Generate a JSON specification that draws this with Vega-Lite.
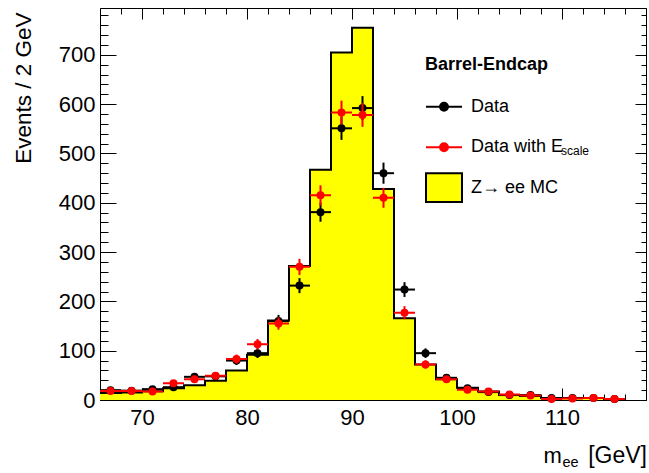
{
  "$schema": "https://vega.github.io/schema/vega-lite/v6.json",
  "width": 546,
  "height": 392,
  "autosize": {"type": "none"},
  "padding": {"left": 100, "top": 8, "right": 3, "bottom": 73},
  "background": "white",
  "config": {
    "font": "Liberation Sans",
    "view": {"stroke": null},
    "axis": {"grid": false, "labelColor": "black", "tickColor": "black", "domainColor": "black", "titleColor": "black", "titleFontWeight": "normal", "labelFont": "Liberation Sans", "titleFont": "Liberation Sans", "zindex": 1, "tickWidth": 1, "domainWidth": 1, "labelFlush": false, "labelOverlap": false}
  },
  "datasets": {
    "mc": [
      {"lo": 66, "hi": 68, "mc": 14}, {"lo": 68, "hi": 70, "mc": 15}, {"lo": 70, "hi": 72, "mc": 18},
      {"lo": 72, "hi": 74, "mc": 24}, {"lo": 74, "hi": 76, "mc": 30}, {"lo": 76, "hi": 78, "mc": 39},
      {"lo": 78, "hi": 80, "mc": 60}, {"lo": 80, "hi": 82, "mc": 92}, {"lo": 82, "hi": 84, "mc": 161},
      {"lo": 84, "hi": 86, "mc": 272}, {"lo": 86, "hi": 88, "mc": 467}, {"lo": 88, "hi": 90, "mc": 705},
      {"lo": 90, "hi": 92, "mc": 755}, {"lo": 92, "hi": 94, "mc": 428}, {"lo": 94, "hi": 96, "mc": 166},
      {"lo": 96, "hi": 98, "mc": 72}, {"lo": 98, "hi": 100, "mc": 42}, {"lo": 100, "hi": 102, "mc": 25},
      {"lo": 102, "hi": 104, "mc": 17}, {"lo": 104, "hi": 106, "mc": 10}, {"lo": 106, "hi": 108, "mc": 8},
      {"lo": 108, "hi": 110, "mc": 4}, {"lo": 110, "hi": 112, "mc": 4}, {"lo": 112, "hi": 114, "mc": 4},
      {"lo": 114, "hi": 116, "mc": 2}
    ],
    "pts": [
      {"series": "Data", "x": 67, "lo": 66, "hi": 68, "y": 20, "err": 4.5},
      {"series": "Data", "x": 69, "lo": 68, "hi": 70, "y": 19, "err": 4.4},
      {"series": "Data", "x": 71, "lo": 70, "hi": 72, "y": 22, "err": 4.7},
      {"series": "Data", "x": 73, "lo": 72, "hi": 74, "y": 26, "err": 5.1},
      {"series": "Data", "x": 75, "lo": 74, "hi": 76, "y": 47, "err": 6.9},
      {"series": "Data", "x": 77, "lo": 76, "hi": 78, "y": 48, "err": 6.9},
      {"series": "Data", "x": 79, "lo": 78, "hi": 80, "y": 80, "err": 8.9},
      {"series": "Data", "x": 81, "lo": 80, "hi": 82, "y": 95, "err": 9.7},
      {"series": "Data", "x": 83, "lo": 82, "hi": 84, "y": 160, "err": 12.6},
      {"series": "Data", "x": 85, "lo": 84, "hi": 86, "y": 232, "err": 15.2},
      {"series": "Data", "x": 87, "lo": 86, "hi": 88, "y": 381, "err": 19.5},
      {"series": "Data", "x": 89, "lo": 88, "hi": 90, "y": 551, "err": 23.5},
      {"series": "Data", "x": 91, "lo": 90, "hi": 92, "y": 592, "err": 24.3},
      {"series": "Data", "x": 93, "lo": 92, "hi": 94, "y": 460, "err": 21.4},
      {"series": "Data", "x": 95, "lo": 94, "hi": 96, "y": 224, "err": 15.0},
      {"series": "Data", "x": 97, "lo": 96, "hi": 98, "y": 95, "err": 9.7},
      {"series": "Data", "x": 99, "lo": 98, "hi": 100, "y": 45, "err": 6.7},
      {"series": "Data", "x": 101, "lo": 100, "hi": 102, "y": 24, "err": 4.9},
      {"series": "Data", "x": 103, "lo": 102, "hi": 104, "y": 16, "err": 4.0},
      {"series": "Data", "x": 105, "lo": 104, "hi": 106, "y": 10, "err": 3.2},
      {"series": "Data", "x": 107, "lo": 106, "hi": 108, "y": 10, "err": 3.2},
      {"series": "Data", "x": 109, "lo": 108, "hi": 110, "y": 4, "err": 2.0},
      {"series": "Data", "x": 111, "lo": 110, "hi": 112, "y": 4, "err": 2.0},
      {"series": "Data", "x": 113, "lo": 112, "hi": 114, "y": 4, "err": 2.0},
      {"series": "Data", "x": 115, "lo": 114, "hi": 116, "y": 2, "err": 1.4},
      {"series": "Data with E_scale", "x": 67, "lo": 66, "hi": 68, "y": 18, "err": 4.2},
      {"series": "Data with E_scale", "x": 69, "lo": 68, "hi": 70, "y": 18, "err": 4.2},
      {"series": "Data with E_scale", "x": 71, "lo": 70, "hi": 72, "y": 17, "err": 4.1},
      {"series": "Data with E_scale", "x": 73, "lo": 72, "hi": 74, "y": 34, "err": 5.8},
      {"series": "Data with E_scale", "x": 75, "lo": 74, "hi": 76, "y": 42, "err": 6.5},
      {"series": "Data with E_scale", "x": 77, "lo": 76, "hi": 78, "y": 49, "err": 7.0},
      {"series": "Data with E_scale", "x": 79, "lo": 78, "hi": 80, "y": 83, "err": 9.1},
      {"series": "Data with E_scale", "x": 81, "lo": 80, "hi": 82, "y": 113, "err": 10.6},
      {"series": "Data with E_scale", "x": 83, "lo": 82, "hi": 84, "y": 155, "err": 12.4},
      {"series": "Data with E_scale", "x": 85, "lo": 84, "hi": 86, "y": 270, "err": 16.4},
      {"series": "Data with E_scale", "x": 87, "lo": 86, "hi": 88, "y": 415, "err": 20.4},
      {"series": "Data with E_scale", "x": 89, "lo": 88, "hi": 90, "y": 583, "err": 24.1},
      {"series": "Data with E_scale", "x": 91, "lo": 90, "hi": 92, "y": 578, "err": 24.0},
      {"series": "Data with E_scale", "x": 93, "lo": 92, "hi": 94, "y": 410, "err": 20.2},
      {"series": "Data with E_scale", "x": 95, "lo": 94, "hi": 96, "y": 177, "err": 13.3},
      {"series": "Data with E_scale", "x": 97, "lo": 96, "hi": 98, "y": 72, "err": 8.5},
      {"series": "Data with E_scale", "x": 99, "lo": 98, "hi": 100, "y": 42, "err": 6.5},
      {"series": "Data with E_scale", "x": 101, "lo": 100, "hi": 102, "y": 21, "err": 4.6},
      {"series": "Data with E_scale", "x": 103, "lo": 102, "hi": 104, "y": 17, "err": 4.1},
      {"series": "Data with E_scale", "x": 105, "lo": 104, "hi": 106, "y": 11, "err": 3.3},
      {"series": "Data with E_scale", "x": 107, "lo": 106, "hi": 108, "y": 9, "err": 3.0},
      {"series": "Data with E_scale", "x": 109, "lo": 108, "hi": 110, "y": 2, "err": 1.4},
      {"series": "Data with E_scale", "x": 111, "lo": 110, "hi": 112, "y": 3, "err": 1.7},
      {"series": "Data with E_scale", "x": 113, "lo": 112, "hi": 114, "y": 4, "err": 2.0},
      {"series": "Data with E_scale", "x": 115, "lo": 114, "hi": 116, "y": 2, "err": 1.4}
    ]
  },
  "resolve": {"axis": {"x": "independent", "y": "independent"}},
  "layer": [
    {
      "data": {"name": "mc"},
      "mark": {"type": "rect"},
      "encoding": {
        "x": {"field": "lo", "type": "quantitative", "scale": {"domain": [66, 118], "nice": false, "zero": false},
          "axis": {"orient": "bottom", "values": [70, 80, 90, 100, 110], "format": "d", "tickSize": -12, "labelPadding": 19, "labelFontSize": 22, "domain": true,
            "title": "[GeV]", "titleFontSize": 23, "titleX": 546.5, "titleY": 62.7, "titleAlign": "right", "titleBaseline": "alphabetic", "titleAnchor": null}},
        "x2": {"field": "hi"},
        "y": {"field": "mc", "type": "quantitative", "scale": {"domain": [0, 795], "nice": false, "zero": true},
          "axis": {"orient": "left", "values": [0, 100, 200, 300, 400, 500, 600, 700], "format": "d", "tickSize": -16, "labelPadding": 21, "labelFontSize": 22, "domain": true,
            "title": "Events / 2 GeV", "titleFontSize": 22.5, "titleAngle": 270, "titleX": -70, "titleY": 4, "titleAlign": "right", "titleBaseline": "alphabetic"}},
        "y2": {"datum": 0},
        "color": {"datum": "Z→ ee MC", "type": "nominal",
          "scale": {"domain": ["Data", "Data with E_scale", "Z→ ee MC"], "range": ["black", "red", "#ffff00"]},
          "legend": {"orient": "none", "legendX": 325, "legendY": 47.7, "padding": 0,
            "title": "Barrel-Endcap", "titleFontSize": 18, "titleFontWeight": "bold", "titleColor": "black", "titlePadding": 14,
            "labelFontSize": 18, "labelColor": "black", "labelOffset": 8, "rowPadding": 2.5, "symbolSize": 1296, "symbolStrokeWidth": 2,
            "labelExpr": "datum.label === 'Data with E_scale' ? 'Data with E' : datum.label",
            "encode": {"symbols": {"update": {
              "shape": {"signal": "datum.value === 'Z→ ee MC' ? 'M-1,-0.8L1,-0.8L1,0.8L-1,0.8Z' : 'M-1,-0.8L-1,-0.8M1,0.8L1,0.8M-1,0L1,0M-0.22,0A0.22,0.22,0,1,1,0.22,0A0.22,0.22,0,1,1,-0.22,0Z'"},
              "stroke": {"signal": "datum.value === 'Data with E_scale' ? 'red' : 'black'"},
              "strokeWidth": {"value": 2},
              "size": {"value": 1296},
              "opacity": {"value": 1},
              "fillOpacity": {"value": 1},
              "strokeOpacity": {"value": 1}
            }}}}
        }
      }
    },
    {
      "data": {"name": "mc"},
      "transform": [{"fold": ["lo", "hi"], "as": ["key", "edge"]}],
      "mark": {"type": "line", "color": "black", "strokeWidth": 2, "interpolate": "linear"},
      "encoding": {
        "x": {"field": "edge", "type": "quantitative",
          "axis": {"orient": "bottom", "values": [66, 68, 70, 72, 74, 76, 78, 80, 82, 84, 86, 88, 90, 92, 94, 96, 98, 100, 102, 104, 106, 108, 110, 112, 114, 116, 118], "tickSize": -6, "labels": false, "domain": false,
            "title": "ee", "titleFontSize": 14.5, "titleX": 462, "titleY": 66.7, "titleAlign": "left", "titleBaseline": "alphabetic", "titleAnchor": null}},
        "y": {"field": "mc", "type": "quantitative",
          "axis": {"orient": "left", "values": [0, 20, 40, 60, 80, 100, 120, 140, 160, 180, 200, 220, 240, 260, 280, 300, 320, 340, 360, 380, 400, 420, 440, 460, 480, 500, 520, 540, 560, 580, 600, 620, 640, 660, 680, 700, 720, 740, 760, 780], "tickSize": -8, "labels": false, "domain": false, "title": null}},
        "order": [{"field": "edge", "type": "quantitative"}, {"field": "key", "type": "nominal"}]
      }
    },
    {
      "data": {"name": "pts"},
      "transform": [{"filter": "datum.series === 'Data'"}],
      "mark": {"type": "rule", "strokeWidth": 2, "color": "black"},
      "encoding": {
        "x": {"field": "lo", "type": "quantitative", "axis": null},
        "x2": {"field": "hi"},
        "y": {"field": "y", "type": "quantitative", "axis": null}
      }
    },
    {
      "data": {"name": "pts"},
      "transform": [{"filter": "datum.series === 'Data'"}],
      "mark": {"type": "errorbar", "thickness": 2, "color": "black"},
      "encoding": {
        "x": {"field": "x", "type": "quantitative", "axis": null},
        "y": {"field": "y", "type": "quantitative", "axis": null},
        "yError": {"field": "err"}
      }
    },
    {
      "data": {"name": "pts"},
      "transform": [{"filter": "datum.series === 'Data'"}],
      "mark": {"type": "point", "filled": true, "size": 64, "opacity": 1, "shape": "circle"},
      "encoding": {
        "x": {"field": "x", "type": "quantitative",
          "axis": {"orient": "top", "values": [70, 80, 90, 100, 110], "tickSize": -11, "labels": false, "domain": true,
            "title": "m", "titleFontSize": 22, "titleX": 443, "titleY": 454.7, "titleAlign": "left", "titleBaseline": "alphabetic", "titleAnchor": null}},
        "y": {"field": "y", "type": "quantitative",
          "axis": {"orient": "right", "values": [0, 100, 200, 300, 400, 500, 600, 700], "tickSize": -11, "labels": false, "domain": true, "title": null}},
        "color": {"field": "series", "type": "nominal"}
      }
    },
    {
      "data": {"name": "pts"},
      "transform": [{"filter": "datum.series === 'Data with E_scale'"}],
      "mark": {"type": "rule", "strokeWidth": 2, "color": "red"},
      "encoding": {
        "x": {"field": "lo", "type": "quantitative", "axis": null},
        "x2": {"field": "hi"},
        "y": {"field": "y", "type": "quantitative", "axis": null},
        "strokeDash": {"datum": "scale", "type": "nominal", "scale": {"range": [[1, 0]]},
          "legend": {"orient": "none", "legendX": 449, "legendY": 137, "padding": 0, "title": null,
            "labelFontSize": 12, "labelColor": "black", "labelOffset": 0, "symbolSize": 0, "symbolOpacity": 0, "symbolStrokeWidth": 0}}
      }
    },
    {
      "data": {"name": "pts"},
      "transform": [{"filter": "datum.series === 'Data with E_scale'"}],
      "mark": {"type": "errorbar", "thickness": 2, "color": "red"},
      "encoding": {
        "x": {"field": "x", "type": "quantitative", "axis": null},
        "y": {"field": "y", "type": "quantitative", "axis": null},
        "yError": {"field": "err"}
      }
    },
    {
      "data": {"name": "pts"},
      "transform": [{"filter": "datum.series === 'Data with E_scale'"}],
      "mark": {"type": "point", "filled": true, "size": 64, "opacity": 1, "shape": "circle"},
      "encoding": {
        "x": {"field": "x", "type": "quantitative",
          "axis": {"orient": "top", "values": [66, 68, 70, 72, 74, 76, 78, 80, 82, 84, 86, 88, 90, 92, 94, 96, 98, 100, 102, 104, 106, 108, 110, 112, 114, 116, 118], "tickSize": -6, "labels": false, "domain": false, "title": null}},
        "y": {"field": "y", "type": "quantitative",
          "axis": {"orient": "right", "values": [0, 20, 40, 60, 80, 100, 120, 140, 160, 180, 200, 220, 240, 260, 280, 300, 320, 340, 360, 380, 400, 420, 440, 460, 480, 500, 520, 540, 560, 580, 600, 620, 640, 660, 680, 700, 720, 740, 760, 780], "tickSize": -5, "labels": false, "domain": false, "title": null}},
        "color": {"field": "series", "type": "nominal"}
      }
    }
  ]
}
